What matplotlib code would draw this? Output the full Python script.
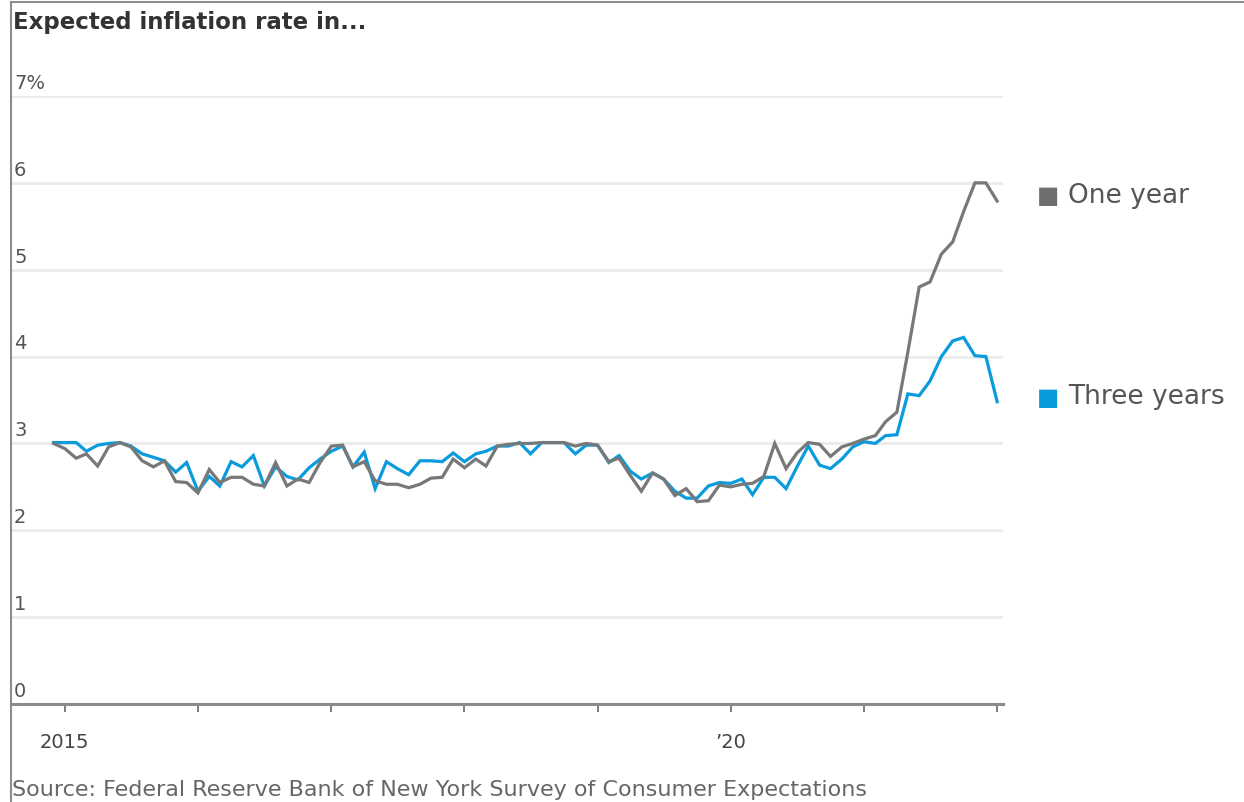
import matplotlib
matplotlib.use("Agg")
import matplotlib.pyplot as plt
from matplotlib.lines import Line2D
import pandas as pd

### DATA ###

months = pd.date_range("2014-12-01", periods=86, freq="MS")

one_year = [
    3.00,
    2.94, 2.83, 2.88, 2.74, 2.96, 3.01, 2.96, 2.80, 2.73, 2.80, 2.56, 2.55,
    2.43, 2.70, 2.55, 2.61, 2.61, 2.53, 2.51, 2.78, 2.51, 2.59, 2.55, 2.78,
    2.97, 2.98, 2.73, 2.79, 2.57, 2.53, 2.53, 2.49, 2.53, 2.60, 2.61, 2.82,
    2.72, 2.82, 2.74, 2.97, 2.99, 3.00, 3.00, 3.01, 3.01, 3.01, 2.97, 3.00,
    2.98, 2.79, 2.83, 2.63, 2.45, 2.66, 2.59, 2.40, 2.48, 2.33, 2.34, 2.52,
    2.50, 2.53, 2.54, 2.62, 3.00, 2.71, 2.89, 3.01, 2.99, 2.85, 2.96, 3.00,
    3.05, 3.09, 3.25, 3.36, 4.05, 4.80, 4.86, 5.18, 5.32, 5.67, 6.00, 6.00,
    5.79,
]

three_years = [
    3.01,
    3.01, 3.01, 2.91, 2.98, 3.00, 3.01, 2.97, 2.88, 2.84, 2.80, 2.67, 2.78,
    2.45, 2.62, 2.51, 2.79, 2.73, 2.86, 2.51, 2.73, 2.62, 2.58, 2.72, 2.82,
    2.91, 2.97, 2.73, 2.90, 2.48, 2.79, 2.71, 2.64, 2.80, 2.80, 2.79, 2.89,
    2.79, 2.88, 2.91, 2.97, 2.97, 3.01, 2.88, 3.01, 3.01, 3.01, 2.88, 2.98,
    2.98, 2.78, 2.86, 2.68, 2.59, 2.66, 2.59, 2.45, 2.37, 2.37, 2.51, 2.55,
    2.54, 2.59, 2.41, 2.61, 2.61, 2.48, 2.73, 2.97, 2.75, 2.71, 2.82, 2.96,
    3.02, 3.00, 3.09, 3.10, 3.57, 3.55, 3.72, 4.00, 4.18, 4.22, 4.01, 4.00,
    3.48,
]

y_ticks = [0, 1, 2, 3, 4, 5, 6, 7]
y_labels = ["0", "1", "2", "3", "4", "5", "6", "7%"]
year_ticks = pd.date_range("2015-01-01", "2022-01-01", freq="YS")
year_labels = ["2015", "", "", "", "", "\u201920", "", ""]

GRAY = "#787878"
BLUE = "#0a9bdc"
TEXT = "#555555"

W, H = 1244, 803
fig = plt.figure(figsize=(W / 100, H / 100), dpi=100)

# axes placed by pixel
left, right, top, bottom = 12, 1003, 97, 705
ax = fig.add_axes([left / W, 1 - bottom / H, (right - left) / W, (bottom - top) / H])

ax.plot(months, one_year, color=GRAY, lw=2.3, solid_joinstyle="miter", zorder=3)
ax.plot(months, three_years, color=BLUE, lw=2.3, solid_joinstyle="miter", zorder=2)

ax.set_ylim(0, 7)
ax.set_xlim(pd.Timestamp("2014-08-09"), pd.Timestamp("2022-01-17"))

# gridlines + labels sitting above them
for v, lab in zip(y_ticks, y_labels):
    if v > 0:
        ax.axhline(v, color="#ebebeb", lw=2, zorder=0)
    ax.annotate(lab, xy=(0, v), xycoords=("axes fraction", "data"),
                xytext=(1.5, 3), textcoords="offset points",
                ha="left", va="bottom", fontsize=14, color=TEXT)

ax.set_yticks([])
for s in ["top", "right", "left"]:
    ax.spines[s].set_visible(False)
ax.spines["bottom"].set_color("#8a8a8a")
ax.spines["bottom"].set_linewidth(2.2)

ax.set_xticks(year_ticks)
ax.set_xticklabels(year_labels)
ax.tick_params(axis="x", length=6, width=1.2, color="#666666", pad=14,
               labelsize=14, labelcolor="#444444")

# end labels
ax.annotate("\u25a0", xy=(1037 / W, 1 - 196 / H), xycoords="figure fraction",
            ha="left", va="center", fontsize=17, color="#6e6e6e")
fig.text(1068 / W, 1 - 196 / H, "One year", ha="left", va="center",
         fontsize=19, color=TEXT)
ax.annotate("\u25a0", xy=(1037 / W, 1 - 398 / H), xycoords="figure fraction",
            ha="left", va="center", fontsize=17, color=BLUE)
fig.text(1068 / W, 1 - 397 / H, "Three years", ha="left", va="center",
         fontsize=19, color=TEXT)

fig.text(13 / W, 1 - 23 / H, "Expected inflation rate in...", ha="left",
         va="center", fontsize=16.5, fontweight="bold", color="#333333")
fig.text(12 / W, 1 - 790 / H,
         "Source: Federal Reserve Bank of New York Survey of Consumer Expectations",
         ha="left", va="center", fontsize=16, color="#666666")

# picture frame on left and top
fig.add_artist(Line2D([11 / W, 11 / W], [0, 1 - 3 / H], color="#8c8c8c", lw=1.5))
fig.add_artist(Line2D([11 / W, 1], [1 - 3 / H, 1 - 3 / H], color="#8c8c8c", lw=1.5))

fig.savefig("out.png", dpi=100)
